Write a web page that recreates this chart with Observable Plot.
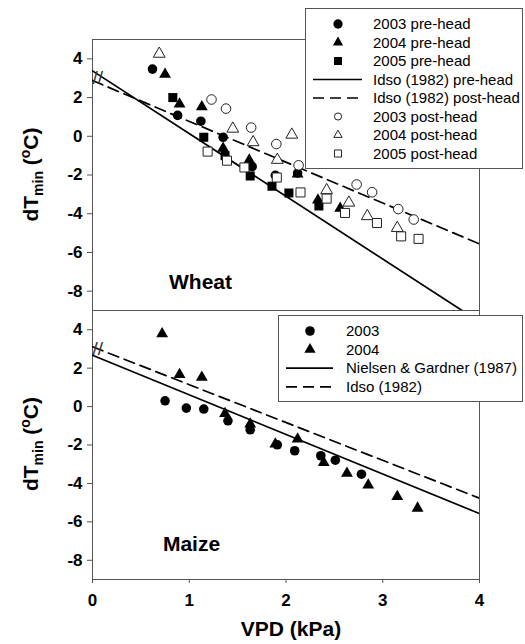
<!DOCTYPE html>
<html><head><meta charset="utf-8">
<script src="https://cdn.jsdelivr.net/npm/d3@7"></script>
<script src="https://cdn.jsdelivr.net/npm/@observablehq/plot@0.6"></script>
<style>
body{margin:0;background:#fff;}
#chart{position:relative;width:525px;height:644px;font-family:"Liberation Sans",Arial,Helvetica,sans-serif;}
#chart > svg{position:absolute;left:0;}
</style></head><body><div id="chart"></div>
<script>
// ---------- Wheat (top panel) ----------
const wheatPre2003X = [0.62, 0.88, 1.12, 1.35, 1.65, 1.89, 2.12];
const wheatPre2003Y = [3.47, 1.08, 0.78, -0.05, -1.57, -2.02, -1.9];
const wheatPre2004X = [0.75, 0.90, 1.13, 1.35, 1.62, 2.12, 2.33, 2.56];
const wheatPre2004Y = [3.2, 1.66, 1.52, -0.62, -1.23, -1.95, -3.3, -3.72];
const wheatPre2005X = [0.83, 1.15, 1.37, 1.63, 1.855, 2.03, 2.34];
const wheatPre2005Y = [2.0, -0.05, -1.0, -2.05, -2.58, -2.93, -3.6];
const wheatPost2003X = [1.23, 1.38, 1.64, 1.90, 2.13, 2.73, 2.89, 3.16, 3.32];
const wheatPost2003Y = [1.9, 1.43, 0.45, -0.4, -1.5, -2.49, -2.89, -3.76, -4.3];
const wheatPost2004X = [0.69, 1.45, 1.66, 1.91, 2.06, 2.42, 2.65, 2.84, 3.15];
const wheatPost2004Y = [4.26, 0.39, -0.31, -1.22, 0.08, -2.79, -3.43, -4.13, -4.74];
const wheatPost2005X = [1.19, 1.39, 1.57, 1.905, 2.15, 2.42, 2.61, 2.94, 3.19, 3.37];
const wheatPost2005Y = [-0.79, -1.26, -1.61, -2.13, -2.9, -3.22, -3.96, -4.48, -5.17, -5.3];
const idsoPreX = [0, 3.82];
const idsoPreY = [3.38, -9.0];
const idsoPostX = [0, 4];
const idsoPostY = [2.88, -5.56];

// ---------- Maize (bottom panel) ----------
const maize2003X = [0.75, 0.97, 1.15, 1.40, 1.63, 1.91, 2.09, 2.36, 2.51, 2.78];
const maize2003Y = [0.30, -0.08, -0.13, -0.74, -1.21, -1.99, -2.30, -2.56, -2.79, -3.52];
const maize2004X = [0.72, 0.90, 1.13, 1.37, 1.63, 1.89, 2.12, 2.39, 2.63, 2.85, 3.15, 3.36];
const maize2004Y = [3.78, 1.66, 1.52, -0.36, -0.91, -1.95, -1.69, -2.91, -3.47, -4.09, -4.68, -5.29];
const nielsenX = [0, 4];
const nielsenY = [2.67, -5.57];
const idsoMaizeX = [0, 4];
const idsoMaizeY = [3.11, -4.77];

// ---------- axes / labels ----------
const xDomain = [0, 4];
const yDomain = [-9, 5];
const xTicks = [0, 1, 2, 3, 4];
const yTicks = [-8, -6, -4, -2, 0, 2, 4];
const axisBreakY = 3;
const wheatLegendLabels = ["2003 pre-head", "2004 pre-head", "2005 pre-head", "Idso (1982) pre-head",
  "Idso (1982) post-head", "2003 post-head", "2004 post-head", "2005 post-head"];
const maizeLegendLabels = ["2003", "2004", "Nielsen & Gardner (1987)", "Idso (1982)"];
const panelNames = ["Wheat", "Maize"];
const xLabel = "VPD (kPa)";

const FONT = '"Liberation Sans", Arial, Helvetica, sans-serif';
const rows = (xs, ys) => xs.map((x, i) => ({x, y: ys[i]}));

function filled(xs, ys, symbol, r) {
  return Plot.dot(rows(xs, ys), {x: "x", y: "y", symbol, r, fill: "black", stroke: "none"});
}
function open(xs, ys, symbol, r) {
  return Plot.dot(rows(xs, ys), {x: "x", y: "y", symbol, r, fill: "white", stroke: "#222", strokeWidth: 1});
}
function ln(xs, ys, dash) {
  return Plot.line(rows(xs, ys), {x: "x", y: "y", stroke: "black", strokeWidth: 1.7, strokeDasharray: dash, clip: true});
}
function breakMark() {
  return Plot.text(["//"], {x: () => xDomain[0], y: () => axisBreakY, text: d => d, textAnchor: "start",
    dx: 0, fontSize: 19, fontWeight: "normal", fill: "#333"});
}

const chart = document.getElementById("chart");

const topPlot = Plot.plot({
  width: 525, height: 312, marginTop: 39, marginBottom: 2, marginLeft: 92, marginRight: 46,
  style: {fontFamily: FONT, fontSize: "17px", fontWeight: "bold", color: "black", background: "transparent", overflow: "visible"},
  x: {domain: xDomain, axis: null},
  y: {domain: yDomain, ticks: yTicks, tickSize: 5, tickPadding: 5, tickFormat: d => String(d), label: null},
  marks: [
    Plot.frame({stroke: "#555"}),
    ln(idsoPreX, idsoPreY, null),
    ln(idsoPostX, idsoPostY, "11,6"),
    filled(wheatPre2003X, wheatPre2003Y, "circle", 4.8),
    filled(wheatPre2004X, wheatPre2004Y, "triangle", 4.4),
    filled(wheatPre2005X, wheatPre2005Y, "square", 5.1),
    open(wheatPost2003X, wheatPost2003Y, "circle", 4.8),
    open(wheatPost2004X, wheatPost2004Y, "triangle", 4.4),
    open(wheatPost2005X, wheatPost2005Y, "square", 5.1),
    breakMark(),
    Plot.text([panelNames[0]], {frameAnchor: "bottom-left", text: d => d, dx: 108, dy: -28,
      textAnchor: "middle", lineAnchor: "middle", fontSize: 21, fontWeight: "bold", fill: "black"})
  ]
});
topPlot.style.top = "0px";
chart.appendChild(topPlot);

const botPlot = Plot.plot({
  width: 525, height: 335, marginTop: 1, marginBottom: 65, marginLeft: 92, marginRight: 46,
  style: {fontFamily: FONT, fontSize: "17px", fontWeight: "bold", color: "black", background: "transparent", overflow: "visible"},
  x: {domain: xDomain, ticks: xTicks, tickSize: 4, tickPadding: 10, tickFormat: d => String(d), label: null},
  y: {domain: yDomain, ticks: yTicks, tickSize: 5, tickPadding: 5, tickFormat: d => String(d), label: null},
  marks: [
    Plot.frame({stroke: "#555"}),
    ln(nielsenX, nielsenY, null),
    ln(idsoMaizeX, idsoMaizeY, "11,6"),
    filled(maize2003X, maize2003Y, "circle", 4.8),
    filled(maize2004X, maize2004Y, "triangle", 4.4),
    breakMark(),
    Plot.text([panelNames[1]], {frameAnchor: "bottom-left", text: d => d, dx: 99, dy: -35,
      textAnchor: "middle", lineAnchor: "middle", fontSize: 21, fontWeight: "bold", fill: "black"})
  ]
});
botPlot.style.top = "309px";
chart.appendChild(botPlot);

// tick line colours
for (const svg of [topPlot, botPlot]) {
  d3.select(svg).selectAll("[aria-label$='tick'] path, [aria-label$='tick'] line").attr("stroke", "#555");
}

// y axis labels with sub/superscript
function addYLabel(svg, cy) {
  const t = d3.select(svg).append("text")
    .attr("transform", `translate(38,${cy}) rotate(-90)`)
    .attr("text-anchor", "middle").attr("font-size", 21).attr("font-weight", "bold")
    .attr("font-family", FONT).attr("fill", "black");
  t.append("tspan").text("dT");
  t.append("tspan").attr("font-size", 14).attr("dy", 5).text("min");
  t.append("tspan").attr("dy", -5).text(" (");
  t.append("tspan").attr("font-size", 14).attr("dy", -8).text("o");
  t.append("tspan").attr("dy", 8).text("C)");
}
addYLabel(topPlot, 174.5);
addYLabel(botPlot, 135);
d3.select(botPlot).append("text").attr("x", 291).attr("y", 327).attr("text-anchor", "middle")
  .attr("font-size", 21).attr("font-weight", "bold").attr("font-family", FONT).attr("fill", "black").text(xLabel);

// ---------- legends (overlay) ----------
const ov = d3.select(chart).append("svg").attr("width", 525).attr("height", 644)
  .style("top", "0px").style("pointer-events", "none");

function legend({x, y, w, h, symX, l1, l2, textX, row0, step, items, labels}) {
  const g = ov.append("g").attr("font-family", FONT).attr("font-size", 15);
  g.append("rect").attr("x", x + 0.5).attr("y", y + 0.5).attr("width", w).attr("height", h)
    .attr("fill", "white").attr("stroke", "#555");
  items.forEach((it, i) => {
    const cy = row0 + i * step;
    if (it.line !== undefined) {
      g.append("line").attr("x1", l1).attr("x2", l2).attr("y1", cy).attr("y2", cy)
        .attr("stroke", "black").attr("stroke-width", 1.7).attr("stroke-dasharray", it.line);
    } else {
      g.append("path").attr("transform", `translate(${symX},${cy})`)
        .attr("d", d3.symbol(it.sym, it.size)())
        .attr("fill", it.open ? "white" : "black").attr("stroke", it.open ? "#222" : "none");
    }
    g.append("text").attr("x", textX).attr("y", cy).attr("dy", "0.35em").attr("fill", "black").text(labels[i]);
  });
}
legend({x: 305, y: 8, w: 217, h: 160, symX: 338, l1: 313, l2: 362, textX: 373, row0: 24, step: 18.5,
  labels: wheatLegendLabels,
  items: [
    {sym: d3.symbolCircle, size: 68}, {sym: d3.symbolTriangle, size: 45}, {sym: d3.symbolSquare, size: 64},
    {line: null}, {line: "11,6"},
    {sym: d3.symbolCircle, size: 40, open: true}, {sym: d3.symbolTriangle, size: 30, open: true},
    {sym: d3.symbolSquare, size: 50, open: true}
  ]});
legend({x: 278, y: 315, w: 244, h: 86, symX: 310, l1: 286, l2: 333, textX: 346, row0: 331, step: 18.6,
  labels: maizeLegendLabels,
  items: [
    {sym: d3.symbolCircle, size: 72}, {sym: d3.symbolTriangle, size: 55},
    {line: null}, {line: "11,6"}
  ]});
</script></body></html>
